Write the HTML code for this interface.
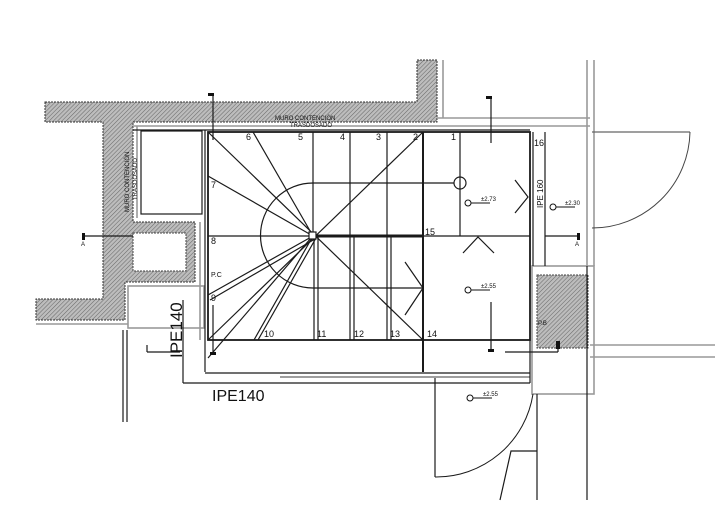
<!DOCTYPE html>
<html><head><meta charset="utf-8"><style>
html,body{margin:0;padding:0;background:#fff;}
svg{display:block;}
text{font-family:"Liberation Sans",sans-serif;fill:#111;}
</style></head><body>
<svg width="726" height="512" viewBox="0 0 726 512" xmlns="http://www.w3.org/2000/svg">
<defs>
<pattern id="h" width="3" height="3" patternUnits="userSpaceOnUse" patternTransform="rotate(45)">
<rect width="3" height="3" fill="#bdbdbd"/><line x1="0" y1="0" x2="0" y2="3" stroke="#6a6a6a" stroke-width="1.1"/>
</pattern>
</defs>
<path d="M45,102 L417,102 L417,60 L437,60 L437,122 L133,122 L133,222 L195,222 L195,282 L125,282 L125,320 L36,320 L36,299 L103,299 L103,122 L45,122 Z" fill="url(#h)" stroke="#333" stroke-width="1" stroke-dasharray="2,1"/>
<rect x="133" y="233" width="53" height="38" fill="#fff" stroke="#444" stroke-dasharray="2,1"/>
<rect x="537" y="275" width="51" height="73" fill="url(#h)" stroke="#444" stroke-dasharray="2,1"/>

<g fill="none" stroke="#999" stroke-width="1.6">
<line x1="133" y1="126" x2="590" y2="126"/>
<line x1="437" y1="118" x2="590" y2="118"/>
<line x1="443" y1="60" x2="443" y2="118"/>
<line x1="137" y1="126" x2="137" y2="218"/>
<line x1="200" y1="222" x2="200" y2="340"/>
<rect x="128" y="286" width="76" height="42"/>
<line x1="36" y1="324" x2="128" y2="324"/>
<rect x="532" y="266" width="62" height="128"/>
<line x1="590" y1="345" x2="715" y2="345"/>
<line x1="590" y1="357" x2="715" y2="357"/>
<line x1="587" y1="60" x2="587" y2="266"/>
<line x1="594" y1="60" x2="594" y2="266"/>
</g>
<g fill="none" stroke="#1a1a1a" stroke-width="1.2">
<line x1="133" y1="130" x2="530" y2="130"/>
<rect x="141" y="131" width="61" height="83" fill="#fff"/>
<line x1="205" y1="130" x2="205" y2="372"/>
<line x1="183" y1="300" x2="183" y2="383"/>
<line x1="123" y1="330" x2="123" y2="422"/>
<line x1="127" y1="330" x2="127" y2="422"/>
<rect x="208" y="132" width="322" height="208" stroke-width="1.8"/>
<line x1="313" y1="132" x2="313" y2="236"/>
<line x1="350" y1="132" x2="350" y2="236"/>
<line x1="387" y1="132" x2="387" y2="236"/>
<line x1="423" y1="132" x2="423" y2="372" stroke-width="2"/>
<line x1="460" y1="132" x2="460" y2="236"/>
<line x1="208" y1="236" x2="530" y2="236"/>
<line x1="313" y1="236" x2="423" y2="236" stroke-width="3"/>
<line x1="313" y1="183" x2="454" y2="183"/>
<circle cx="460" cy="183" r="6"/>
<line x1="313" y1="288" x2="423" y2="288"/>
<path d="M313,183 A52,52 0 0 0 313,288"/>
<line x1="314" y1="236" x2="314" y2="340"/><line x1="318" y1="236" x2="318" y2="340"/>
<line x1="350" y1="236" x2="350" y2="340"/><line x1="354" y1="236" x2="354" y2="340"/>
<line x1="387" y1="236" x2="387" y2="340"/><line x1="391" y1="236" x2="391" y2="340"/>
<line x1="208" y1="132" x2="423" y2="340"/>
<line x1="423" y1="132" x2="208" y2="340"/>
<line x1="253" y1="132" x2="313" y2="236"/>
<line x1="208" y1="176" x2="313" y2="236"/>
<line x1="208" y1="295" x2="313" y2="236"/><line x1="210" y1="300" x2="315" y2="239"/>
<line x1="313" y1="236" x2="254" y2="340"/><line x1="316" y1="238" x2="258" y2="340"/>
<line x1="311" y1="238" x2="208" y2="358"/>
<rect x="309" y="232" width="7" height="7" fill="#fff"/>
<polyline points="405,262 423,288 405,315"/>
<polyline points="515,180 528,197 515,213"/>
<polyline points="463,253 478,237 494,253"/>
<line x1="533" y1="132" x2="533" y2="266"/>
<line x1="545" y1="132" x2="545" y2="266"/>
<line x1="183" y1="383" x2="530" y2="383"/>
<line x1="205" y1="373" x2="530" y2="373"/>
<line x1="280" y1="377" x2="530" y2="377" stroke="#666"/>
<line x1="530" y1="340" x2="530" y2="383"/>
<line x1="435" y1="378" x2="435" y2="477"/>
<path d="M435,477 A98,98 0 0 0 533,394" stroke-width="1"/>
<line x1="592" y1="132" x2="690" y2="132" stroke="#666"/>
<path d="M690,132 A98,98 0 0 1 592,228" stroke="#444" stroke-width="1"/>
<line x1="537" y1="394" x2="537" y2="500"/>
<line x1="587" y1="266" x2="587" y2="500"/>
<polyline points="500,500 511,451 537,451"/>
<line x1="213" y1="95" x2="213" y2="140"/>
<line x1="491" y1="97" x2="491" y2="143"/>
<line x1="83" y1="236" x2="133" y2="236"/>
<line x1="545" y1="236" x2="578" y2="236"/>
<line x1="213" y1="305" x2="213" y2="353"/>
<line x1="491" y1="302" x2="491" y2="350"/>
<line x1="147" y1="345" x2="147" y2="352"/><line x1="147" y1="352" x2="180" y2="352"/>
<line x1="505" y1="352" x2="530" y2="352"/>
<line x1="530" y1="352" x2="558" y2="352"/><line x1="558" y1="345" x2="558" y2="352"/>
</g>
<g fill="#111">
<rect x="208" y="93" width="6" height="3"/><rect x="486" y="96" width="6" height="3"/>
<rect x="82" y="233" width="3" height="7"/><rect x="577" y="233" width="3" height="7"/>
<rect x="210" y="352" width="6" height="3"/><rect x="488" y="349" width="6" height="3"/>
<rect x="556" y="341" width="4" height="8"/>
</g>
<g fill="none" stroke="#111">
<circle cx="468" cy="203" r="3"/><line x1="471" y1="203" x2="490" y2="203"/>
<circle cx="553" cy="207" r="3"/><line x1="556" y1="207" x2="575" y2="207"/>
<circle cx="468" cy="290" r="3"/><line x1="471" y1="290" x2="490" y2="290"/>
<circle cx="470" cy="398" r="3"/><line x1="473" y1="398" x2="492" y2="398"/>
</g>
<g font-size="6">
<text x="481" y="201">±2.73</text><text x="565" y="205">±2.30</text>
<text x="481" y="288">±2.55</text><text x="483" y="396">±2.55</text>
<text x="538" y="325">P.B</text>
<text x="275" y="120">MURO   CONTENCIÓN</text>
<text x="290" y="127">TRASDOSADO</text>
<text transform="translate(129,212) rotate(-90)">MURO   CONTENCIÓN</text>
<text transform="translate(137,200) rotate(-90)">TRASDOSADO</text>
<text x="81" y="246">A</text><text x="575" y="246">A</text>
</g>
<g font-size="9">
<text x="246" y="140">6</text><text x="298" y="140">5</text><text x="340" y="140">4</text>
<text x="376" y="140">3</text><text x="413" y="140">2</text><text x="451" y="140">1</text>
<text x="534" y="146">16</text><text x="211" y="188">7</text><text x="211" y="244">8</text>
<text x="211" y="301">9</text><text x="264" y="337">10</text><text x="317" y="337">11</text>
<text x="354" y="337">12</text><text x="390" y="337">13</text><text x="427" y="337">14</text>
<text x="425" y="235">15</text>
</g>
<text x="211" y="277" font-size="7">P.C</text>
<text transform="translate(543,208) rotate(-90)" font-size="8">IPE 160</text>
<text transform="translate(182,358) rotate(-90)" font-size="17">IPE140</text>
<text x="212" y="401" font-size="16">IPE140</text>
</svg>
</body></html>
